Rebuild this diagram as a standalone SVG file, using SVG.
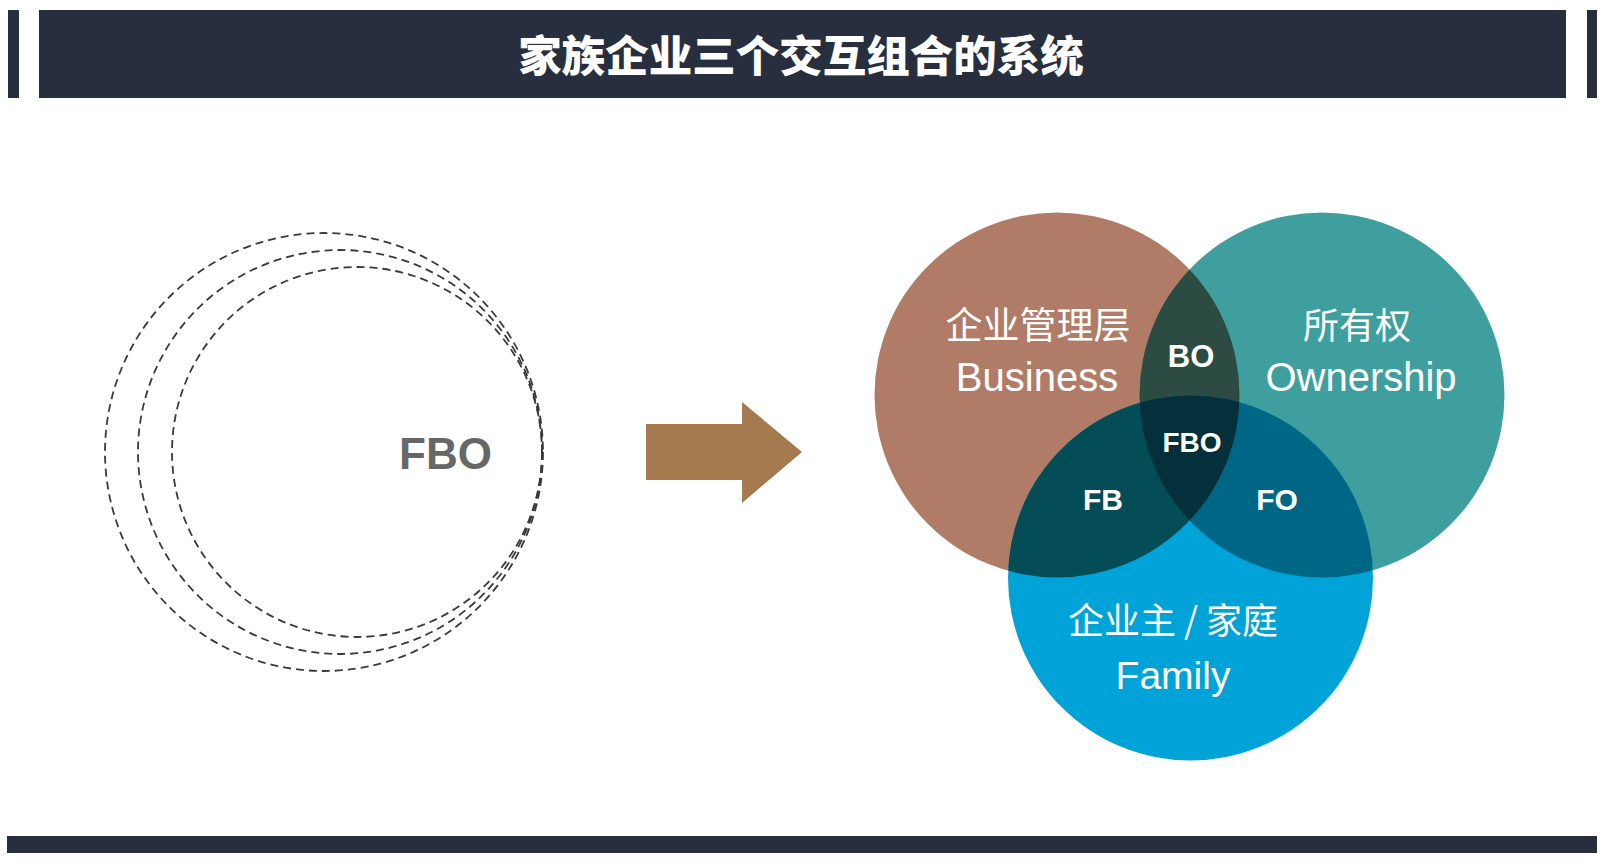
<svg xmlns="http://www.w3.org/2000/svg" width="1608" height="862" viewBox="0 0 1608 862">
  <style>
    .bar { fill: #272e3d; }
    .dash { fill: none; stroke: #3a3a3a; stroke-width: 1.8; stroke-dasharray: 8 5; }
    .cjk { font-family: "Noto Sans CJK SC", sans-serif; fill: #ffffff; text-anchor: middle; }
    .lat { font-family: "Liberation Sans", "Noto Sans CJK SC", sans-serif; fill: #ffffff; text-anchor: middle; }
    .lbl { font-family: "Liberation Sans", Arial, sans-serif; font-weight: bold; fill: #ffffff; text-anchor: middle; }
  </style>
  <defs>
    <clipPath id="clipB"><circle cx="1057" cy="395" r="182.5"/></clipPath>
    <clipPath id="clipO"><circle cx="1322" cy="395" r="182.5"/></clipPath>
  </defs>
  <rect width="1608" height="862" fill="#ffffff"/>

  <g id="header">
    <rect class="bar" x="8" y="10" width="11" height="88"/>
    <rect class="bar" x="39" y="10" width="1527" height="88"/>
    <rect class="bar" x="1587" y="10" width="10" height="88"/>
    <text x="801" y="72" font-family="'Noto Sans CJK SC', sans-serif" font-weight="900" font-size="43.5" fill="#ffffff" text-anchor="middle">家族企业三个交互组合的系统</text>
  </g>

  <g id="footer">
    <rect class="bar" x="7" y="836" width="1590" height="17"/>
  </g>

  <g id="fbo-node">
    <circle class="dash" cx="324" cy="452" r="219"/>
    <circle class="dash" cx="340" cy="452" r="202"/>
    <circle class="dash" cx="357" cy="452" r="185"/>
    <text x="399" y="469" font-family="'Liberation Sans', Arial, sans-serif" font-weight="bold" font-size="44" fill="#676767">FBO</text>
  </g>

  <g id="connectors">
    <polygon points="646,424 742,424 742,402 802,452 742,503 742,480 646,480" fill="#a47a4e"/>
  </g>

  <g id="venn">
    <g id="business">
      <circle cx="1057" cy="395" r="182.5" fill="#b07c67"/>
    </g>
    <g id="ownership">
      <circle cx="1322" cy="395" r="182.5" fill="#3e9f9e"/>
    </g>
    <g id="family">
      <circle cx="1190.5" cy="578" r="182.5" fill="#00a3d8"/>
    </g>
    <g id="bo">
      <circle cx="1322" cy="395" r="182.5" fill="#2b4b43" clip-path="url(#clipB)"/>
    </g>
    <g id="fb">
      <circle cx="1190.5" cy="578" r="182.5" fill="#044c56" clip-path="url(#clipB)"/>
    </g>
    <g id="fo">
      <circle cx="1190.5" cy="578" r="182.5" fill="#006685" clip-path="url(#clipO)"/>
    </g>
    <g id="fbo" clip-path="url(#clipO)">
      <circle cx="1190.5" cy="578" r="182.5" fill="#03303a" clip-path="url(#clipB)"/>
    </g>
  </g>

  <g id="labels">
    <text class="cjk" x="1038" y="339" font-size="37">企业管理层</text>
    <text class="lat" x="1037" y="391" font-size="40">Business</text>
    <text class="cjk" x="1357" y="339" font-size="36">所有权</text>
    <text class="lat" x="1361" y="391" font-size="40">Ownership</text>
    <text class="cjk" x="1173" y="634" font-size="36">企业主 / 家庭</text>
    <text class="lat" x="1173" y="689" font-size="39">Family</text>
    <text class="lbl" x="1191" y="367" font-size="31">BO</text>
    <text class="lbl" x="1192" y="452" font-size="28">FBO</text>
    <text class="lbl" x="1103" y="510" font-size="30">FB</text>
    <text class="lbl" x="1277" y="510" font-size="30">FO</text>
  </g>
</svg>
